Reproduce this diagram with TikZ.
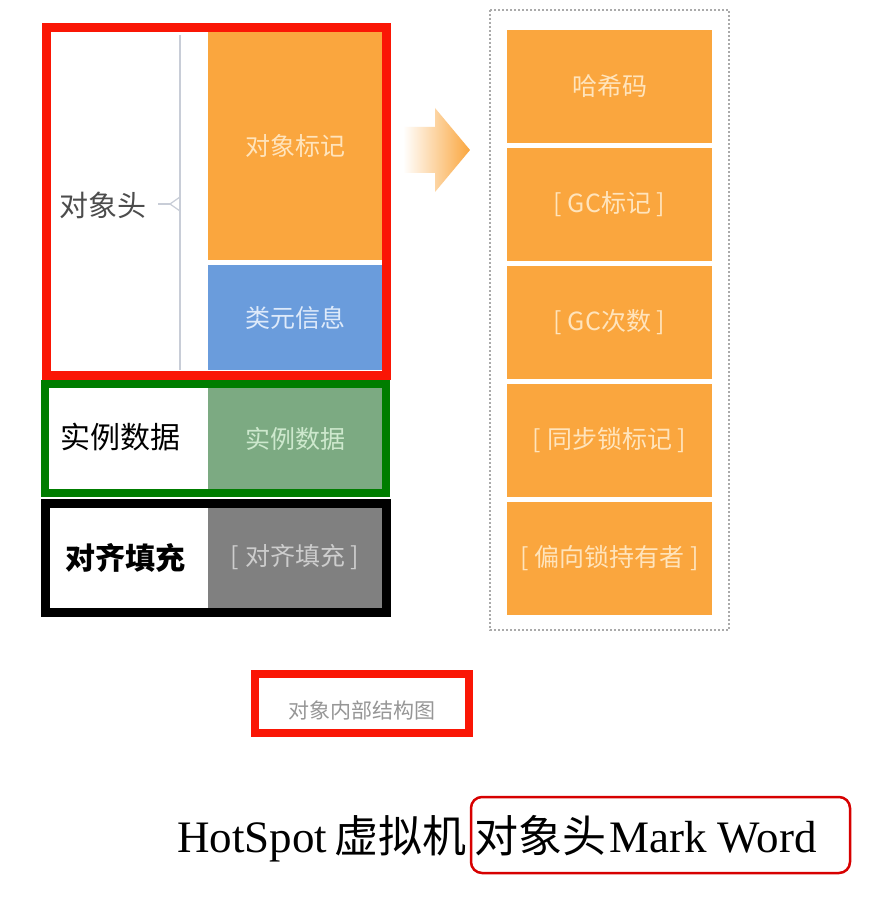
\documentclass[tikz,border=0pt]{standalone}
\usepackage{fontspec}
\setmainfont{Liberation Serif}
\newfontfamily\cjk{Noto Sans CJK SC}

\definecolor{framered}{RGB}{250,22,5}
\definecolor{framegreen}{RGB}{0,125,0}
\definecolor{markorange}{RGB}{250,166,62}
\definecolor{marktext}{RGB}{255,228,188}
\definecolor{klassblue}{RGB}{106,156,220}
\definecolor{klasstext}{RGB}{222,234,250}
\definecolor{datagreen}{RGB}{124,170,130}
\definecolor{datatext}{RGB}{205,232,205}
\definecolor{padgray}{RGB}{128,128,128}
\definecolor{padtext}{RGB}{205,205,205}
\definecolor{linegray}{RGB}{200,205,215}
\definecolor{dashgray}{RGB}{170,170,170}
\definecolor{captext}{RGB}{150,150,150}
\definecolor{titlered}{RGB}{215,0,0}

\begin{document}
\begin{tikzpicture}[x=1pt,y=-1pt,
    block/.style={inner sep=0pt, font=\cjk\fontsize{25}{28}\selectfont},
    sidelabel/.style={inner sep=0pt, font=\cjk\fontsize{30}{32}\selectfont},
    frame/.style={line width=9pt}]
    \useasboundingbox[fill=white] (0,0) rectangle (876,901);

    % Object header column
    \node[block, fill=markorange, text=marktext, minimum width=174pt, minimum height=228pt] (mark) at (295,146) {对象标记};
    \node[block, fill=klassblue, text=klasstext, minimum width=174pt, minimum height=105pt] (klass) at (295,317.5) {类元信息};
    \node[block, fill=datagreen, text=datatext, minimum width=174pt, minimum height=101pt] (data) at (295,438.5) {实例数据};
    \node[block, fill=padgray, text=padtext, minimum width=174pt, minimum height=101pt] (pad) at (295,557.5) {[ 对齐填充 ]};

    % Labels on the left
    \node[sidelabel, text=black!70, font=\cjk\fontsize{29}{32}\selectfont] (header) at (103,205) {对象头};
    \node[sidelabel] (datalabel) at (120,437) {实例数据};
    \node[sidelabel, font=\cjk\bfseries\fontsize{30}{32}\selectfont] (padlabel) at (125,558) {对齐填充};

    % Brace between label and blocks
    \draw[linegray, line width=1.5pt] (180,35) -- (180,370);
    \draw[linegray, line width=1.2pt] (158,204) -- (170,204);
    \draw[linegray, line width=1.2pt] (180,197) -- (170,204) -- (180,211);

    % Colored frames
    \draw[frame, framered] (46,28) rectangle (386,375);
    \draw[frame, framegreen, line width=8.5pt] (45,384) rectangle (386,493);
    \draw[frame, black] (45,503) rectangle (386,612);

    % Shaded arrow
    \shade[left color=white, right color=markorange] (403,127) -- (435,127) -- (435,108) -- (470,150) -- (435,192) -- (435,173) -- (403,173) -- cycle;

    % Mark Word column
    \draw[dashgray, dash pattern=on 2pt off 2pt, line width=1.3pt] (490,10) rectangle (729,630);
    \foreach \name/\txt [count=\i from 0] in {hash/哈希码, gcmark/{[ GC标记 ]}, gcage/{[ GC次数 ]}, lock/{[ 同步锁标记 ]}, bias/{[ 偏向锁持有者 ]}}
        \node[block, fill=markorange, text=marktext, minimum width=205pt, minimum height=113pt] (\name) at (609.5,86.5+118*\i) {\txt};

    % Caption
    \draw[framered, line width=8pt] (255,674) rectangle (469,733);
    \node[inner sep=0pt, text=captext, font=\cjk\fontsize{21}{24}\selectfont] (caption) at (362,710) {对象内部结构图};

    % Title line
    \node[inner sep=0pt, anchor=base west, font=\fontsize{45}{48}\selectfont] (title) at (177,852)
        {HotSpot\hspace{7pt}{\cjk\fontsize{44}{48}\selectfont 虚拟机\hspace{8pt}对象头}\hspace{3pt}Mark Word};
    \draw[titlered, line width=2.5pt, rounded corners=11pt] (471,797) rectangle (850,873);
\end{tikzpicture}
\end{document}
